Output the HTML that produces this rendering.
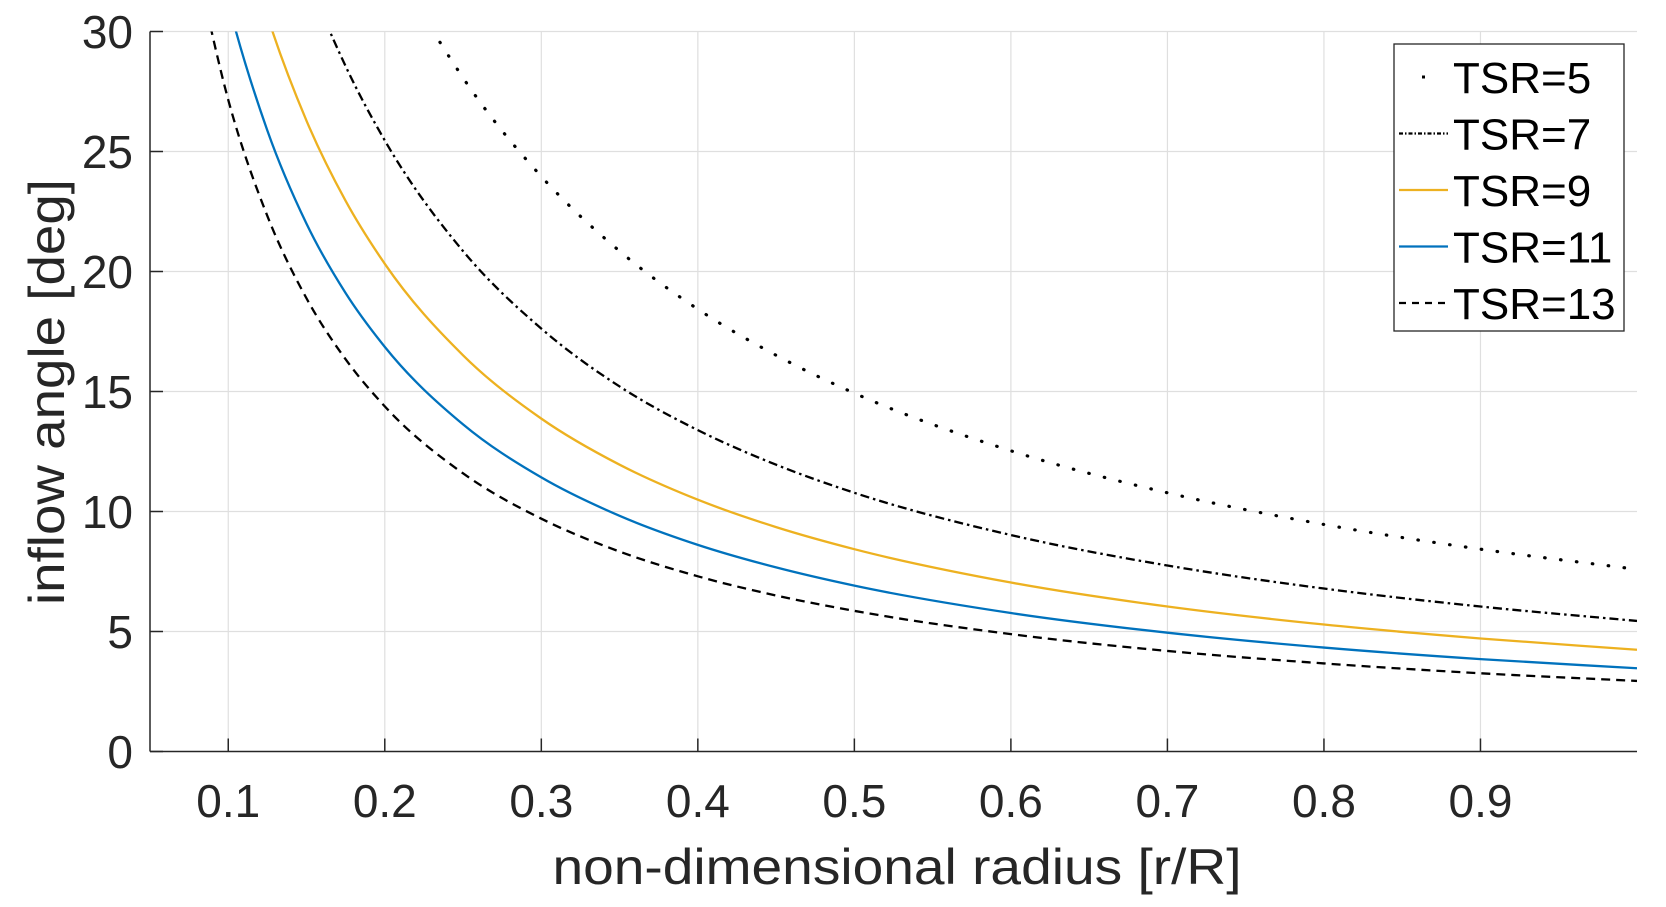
<!DOCTYPE html>
<html><head><meta charset="utf-8"><style>
html,body{margin:0;padding:0;background:#fff;}
svg{display:block;font-family:"Liberation Sans",Arial,sans-serif;}
</style></head><body>
<svg id="chart" width="1666" height="907" viewBox="0 0 1666 907" xmlns="http://www.w3.org/2000/svg">
<defs><clipPath id="plotClip"><rect x="150" y="31.5" width="1487" height="720"/></clipPath></defs>
<g id="grid"></g>
<g id="series" clip-path="url(#plotClip)"></g>
<g id="axes"></g>
<text x="897" y="884" font-size="50" fill="#262626" text-anchor="middle" textLength="689" lengthAdjust="spacingAndGlyphs">non-dimensional radius [r/R]</text>
<text x="0" y="0" font-size="50" fill="#262626" text-anchor="middle" textLength="426" lengthAdjust="spacingAndGlyphs" transform="translate(64,392) rotate(-90)">inflow angle [deg]</text>
<g id="legend"></g>
</svg>
<script>
const radii = [0.08,0.1,0.125,0.15,0.175,0.2,0.25,0.3,0.35,0.4,0.45,0.5,0.6,0.7,0.8,0.9,1.0];
const tsr5  = [59.04,53.13,46.85,41.63,37.30,33.69,28.07,23.96,20.85,18.43,16.51,14.93,12.53,10.78,9.46,8.43,7.59];
const tsr7  = [49.96,43.60,37.30,32.41,28.55,25.46,20.85,17.62,15.21,13.39,11.95,10.78,9.02,7.75,6.79,6.04,5.44];
const tsr9  = [42.80,36.53,30.65,26.28,22.94,20.32,16.51,13.87,11.95,10.49,9.35,8.43,7.04,6.04,5.29,4.71,4.24];
const tsr11 = [37.15,31.22,25.87,21.99,19.10,16.86,13.63,11.42,9.82,8.61,7.67,6.91,5.77,4.95,4.33,3.85,3.47];
const tsr13 = [32.66,27.15,22.31,18.88,16.34,14.38,11.59,9.70,8.33,7.30,6.50,5.86,4.89,4.19,3.67,3.26,2.94];
const seriesNames = ["TSR=5","TSR=7","TSR=9","TSR=11","TSR=13"];
const xTicks = [0.1,0.2,0.3,0.4,0.5,0.6,0.7,0.8,0.9];
const xTickLabels = ["0.1","0.2","0.3","0.4","0.5","0.6","0.7","0.8","0.9"];
const yTicks = [0,5,10,15,20,25,30];

const X0=150,X1=1637,Y0=751.5,Y1=31.5,xmin=0.05,xmax=1.0,ymin=0,ymax=30;
const NS="http://www.w3.org/2000/svg";
function xs(v){return X0+(v-xmin)/(xmax-xmin)*(X1-X0);}
function ys(v){return Y0-(v-ymin)/(ymax-ymin)*(Y0-Y1);}
function mk(tag,attrs,parent){const e=document.createElementNS(NS,tag);for(const k in attrs)e.setAttribute(k,attrs[k]);parent.appendChild(e);return e;}
const grid=document.getElementById('grid'),axes=document.getElementById('axes'),ser=document.getElementById('series'),leg=document.getElementById('legend');

xTicks.forEach((t,i)=>{
  const g=mk('line',{x1:xs(t),x2:xs(t),y1:Y1,y2:Y0,stroke:'#dfdfdf','stroke-width':1.2},grid);
  
  
  const tk=mk('line',{x1:xs(t),x2:xs(t),y1:Y0,y2:Y0-13,stroke:'#262626','stroke-width':1.5},axes);
  
  
  const tl=mk('text',{x:xs(t),y:817,'font-size':46,fill:'#262626','text-anchor':'middle'},axes);
  tl.textContent=xTickLabels[i];
  
  
});
yTicks.forEach(t=>{
  if(t>0){const g=mk('line',{x1:X0,x2:X1,y1:ys(t),y2:ys(t),stroke:'#dfdfdf','stroke-width':1.2},grid);
  
  }
  const tk=mk('line',{x1:X0,x2:X0+13,y1:ys(t),y2:ys(t),stroke:'#262626','stroke-width':1.5},axes);
  
  
  const tl=mk('text',{x:133,y:ys(t)+16.5,'font-size':46,fill:'#262626','text-anchor':'end'},axes);
  tl.textContent=String(t);
  
  
});
const xa=mk('line',{x1:X0,x2:X1,y1:Y0,y2:Y0,stroke:'#262626','stroke-width':1.5},axes);


const ya=mk('line',{x1:X0,x2:X0,y1:Y1,y2:Y0,stroke:'#262626','stroke-width':1.5},axes);



// Hermite spline with non-uniform finite-difference tangents (pixel space)
function pathFor(vals){
  const p=radii.map((r,i)=>[xs(r),ys(vals[i])]);
  const n=p.length, d=[], m=[];
  for(let i=0;i<n-1;i++) d.push((p[i+1][1]-p[i][1])/(p[i+1][0]-p[i][0]));
  for(let i=0;i<n;i++){
    if(i===0) m.push(d[0]);
    else if(i===n-1) m.push(d[n-2]);
    else {
      const h0=p[i][0]-p[i-1][0], h1=p[i+1][0]-p[i][0];
      m.push((h1*d[i-1]+h0*d[i])/(h0+h1));
    }
  }
  let s='M'+p[0][0].toFixed(2)+','+p[0][1].toFixed(2);
  for(let i=0;i<n-1;i++){
    const h=p[i+1][0]-p[i][0];
    const c1=[p[i][0]+h/3,p[i][1]+m[i]*h/3];
    const c2=[p[i+1][0]-h/3,p[i+1][1]-m[i+1]*h/3];
    s+=' C'+c1.map(v=>v.toFixed(2)).join(',')+' '+c2.map(v=>v.toFixed(2)).join(',')+' '+p[i+1].map(v=>v.toFixed(2)).join(',');
  }
  return s;
}
const styles=[
  {stroke:'#000',dash:'0.5 15.5',cap:'round',w:3.2},
  {stroke:'#000',dash:'9 4 2.5 4',cap:'butt',w:2.3},
  {stroke:'#EDB120',dash:'',cap:'butt',w:2.3},
  {stroke:'#0072BD',dash:'',cap:'butt',w:2.3},
  {stroke:'#000',dash:'9 6',cap:'butt',w:2.3}
];
const allSeries=[tsr5,tsr7,tsr9,tsr11,tsr13];
const seriesKeys=['tsr-5','tsr-7','tsr-9','tsr-11','tsr-13'];
allSeries.forEach((vals,i)=>{
  const s=styles[i];
  const el=mk('path',{d:pathFor(vals),fill:'none',stroke:s.stroke,'stroke-width':s.w,'stroke-linecap':s.cap},ser);
  if(s.dash)el.setAttribute('stroke-dasharray',s.dash);
  
  
});

const box=mk('rect',{x:1394,y:44,width:230,height:287,fill:'#fff',stroke:'#262626','stroke-width':1.3},leg);


seriesNames.forEach((n,i)=>{
  const cy=77+i*56.5, s=styles[i];
  const g=mk('g',{},leg);
  
  
  if(i===0){
    mk('rect',{x:1422,y:cy-1.5,width:3,height:3,fill:'#000'},g);
  } else {
    const l=mk('line',{x1:1399,x2:1448,y1:cy,y2:cy,stroke:s.stroke,'stroke-width':2.3},g);
    if(i===1)l.setAttribute('stroke-dasharray','4 2 1.5 2');
    if(i===4)l.setAttribute('stroke-dasharray','7 6');
  }
  const t=mk('text',{x:1453,y:cy+16,'font-size':44,fill:'#000'},g);
  t.textContent=n;
});
</script>
</body></html>
